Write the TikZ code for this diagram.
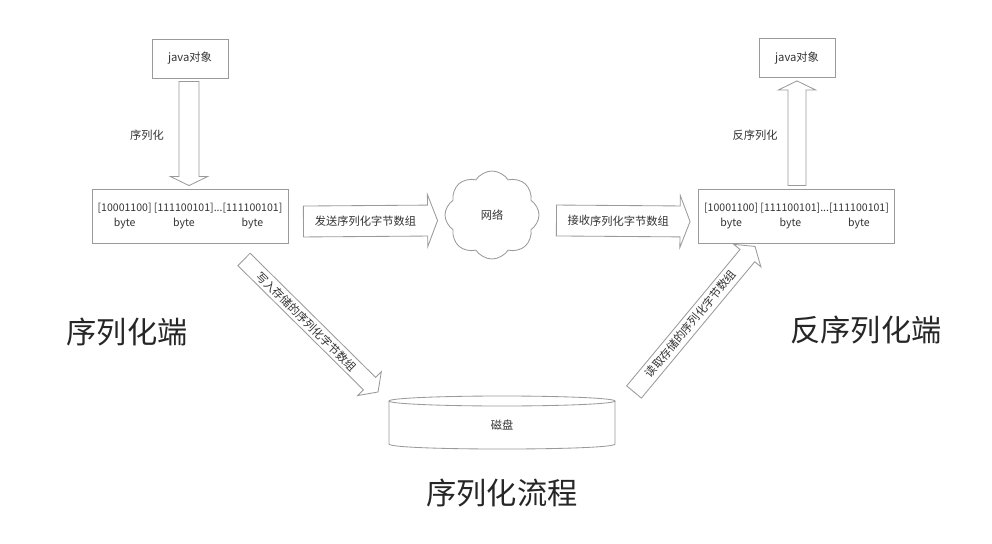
\documentclass[tikz,border=0pt]{standalone}
\usepackage{fontspec}
\setmainfont{Noto Sans CJK SC}
\usetikzlibrary{calc,shapes.symbols}
\definecolor{lineGray}{HTML}{9A9A9A}
\definecolor{textGray}{HTML}{333333}
% hollow block arrow: tail, tip, shaft half width, head half width, head length, label
\newcommand{\hollowarrow}[6]{%
  \path #1 coordinate (ha-a) #2 coordinate (ha-b);
  \path ($(ha-b)!#5!(ha-a)$) coordinate (ha-h);
  \draw[harrow] ($(ha-a)!#3!90:(ha-b)$) -- ($(ha-h)!#3!90:(ha-b)$) -- ($(ha-h)!#4!90:(ha-b)$)
    -- (ha-b) -- ($(ha-h)!#4!-90:(ha-b)$) -- ($(ha-h)!#3!-90:(ha-b)$) -- ($(ha-a)!#3!-90:(ha-b)$) -- cycle;
  \if\relax\detokenize{#6}\relax\else
    \path (ha-a) -- (ha-h) node[midway, sloped, tag] {#6};
  \fi
}
\newcommand{\bytecells}{%
  \begin{tabular}{@{}c@{\ }c@{\hphantom{...}}c@{}}
    [10001100] & [111100101] & \llap{...}[111100101]\\
    byte & byte & byte
  \end{tabular}}

\begin{document}
\begin{tikzpicture}[
    x=0.025cm, y=-0.025cm,
    box/.style={draw=lineGray, fill=white, line width=0.6pt, minimum width=1.9cm, minimum height=0.975cm, align=center, text=textGray, font=\fontsize{8}{10}\selectfont},
    bytebox/.style={box, minimum width=4.9cm, minimum height=1.35cm, font=\fontsize{7.5}{10.7}\selectfont},
    cloudnode/.style={cloud, cloud puffs=8, cloud puff arc=115, aspect=1.05, draw=lineGray, fill=white, line width=0.6pt, minimum width=2.35cm, minimum height=2.2cm, text=textGray, font=\fontsize{8}{10}\selectfont},
    harrow/.style={draw=lineGray, fill=white, line width=0.6pt, line join=miter},
    tag/.style={text=textGray, font=\fontsize{8}{10}\selectfont},
    title/.style={text=black!85, font=\fontsize{21.5}{24}\selectfont}
  ]
  \useasboundingbox (0,0) rectangle (992,544);

  % serialization side
  \node[box] (jl) at (190,58.5) {java对象};
  \node[bytebox] (bl) at (190,216) {\bytecells};
  \node[tag] (serlabel) at (147,135) {序列化};
  \node[title] (sertitle) at (127,332) {序列化端};

  % network
  \node[cloudnode] (net) at (492,215) {网络};

  % deserialization side
  \node[bytebox] (br) at (796.5,216) {\bytecells};
  \node[box] (jr) at (797,58) {java对象};
  \node[tag] (deslabel) at (755,135) {反序列化};
  \node[title] (destitle) at (866,330) {反序列化端};

  % disk
  \node[tag] (disk) at (502,425) {磁盘};
  \draw[lineGray, line width=0.6pt] ($(disk)+(0,-24)$) ellipse [x radius=113, y radius=5];
  \draw[lineGray, line width=0.6pt] ($(disk)+(-113,-24)$) -- ($(disk)+(-113,19)$)
    .. controls ($(disk)+(-113,25.7)$) and ($(disk)+(113,25.7)$) .. ($(disk)+(113,19)$) -- ($(disk)+(113,-24)$);
  \node[title] (flowtitle) at (502,493) {序列化流程};

  % connectors
  \hollowarrow{($(jl.south)+(-1,3)$)}{($(bl.north)+(-1,-3)$)}{7.1pt}{13.2pt}{6.4pt}{}
  \hollowarrow{($(br.north)+(0.5,-3)$)}{($(jr.south)+(0,3)$)}{6.4pt}{13.2pt}{6.4pt}{}
  \hollowarrow{($(bl.east)+(15,5.5)$)}{($(net.west)+(-7,5.5)$)}{11pt}{18.5pt}{7.1pt}{发送序列化字节数组}
  \hollowarrow{($(net.east)+(17,5.5)$)}{($(br.west)+(-8,5.5)$)}{11pt}{18.5pt}{7.1pt}{接收序列化字节数组}
  \hollowarrow{($(bl.south)+(54,16)$)}{($(disk)+(-124,-33)$)}{6.2pt}{12pt}{8.5pt}{写入存储的序列化字节数组}
  \hollowarrow{($(disk)+(132,-33)$)}{($(br.south)+(-41.5,3)$)}{6.8pt}{12.5pt}{8.5pt}{读取存储的序列化字节数组}
\end{tikzpicture}
\end{document}
